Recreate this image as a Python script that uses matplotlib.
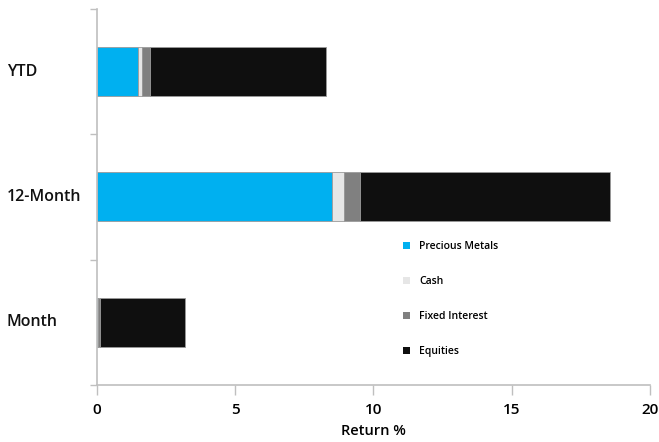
import matplotlib.pyplot as plt
import numpy as np

plt.rcParams['font.family'] = ['Open Sans', 'DejaVu Sans']

# Data (return %)
periods = ["Month", "12-Month", "YTD"]
precious_metals = [0.03, 8.51, 1.48]
cash = [0.0, 0.43, 0.17]
fixed_interest = [0.10, 0.56, 0.27]
equities = [3.05, 9.07, 6.38]

series_names = ["Precious Metals", "Cash", "Fixed Interest", "Equities"]
colors = ["#00B0F0", "#E6E6E6", "#808080", "#0F0F0F"]

fig = plt.figure(figsize=(6.59, 4.42), dpi=100)
ax = fig.add_axes([0.147, 0.129, 0.839, 0.851])

y = np.arange(len(periods))
left = np.zeros(len(periods))
handles = []
for name, vals, col in zip(series_names, [precious_metals, cash, fixed_interest, equities], colors):
    b = ax.barh(y, vals, left=left, height=0.39, color=col, edgecolor="#9a9a9a",
                linewidth=0.6, label=name)
    handles.append(b)
    left = left + np.array(vals)

ax.set_xlim(0, 20)
ax.set_ylim(-0.5, 2.5)
ax.set_xticks([0, 5, 10, 15, 20])
ax.set_yticks([-0.5, 0.5, 1.5, 2.5])
ax.set_yticklabels([])
ax.tick_params(axis="y", length=5, color="#BFBFBF", width=1)
ax.tick_params(axis="x", length=7, color="#BFBFBF", width=1, labelsize=11, pad=6)
for lab in ax.get_xticklabels():
    lab.set_fontweight("semibold")

for yi, name in zip(y, periods):
    ax.text(-0.163, yi, name, transform=ax.get_yaxis_transform(), ha="left",
            va="center", fontsize=11.5, fontweight="semibold", color="#111111")

for s in ["top", "right"]:
    ax.spines[s].set_visible(False)
for s in ["left", "bottom"]:
    ax.spines[s].set_color("#BFBFBF")
    ax.spines[s].set_linewidth(1.2)

ax.set_xlabel("Return %", fontsize=10.5, fontweight="semibold", labelpad=5)

leg = fig.legend(handles=handles, labels=series_names, loc="upper left",
                 bbox_to_anchor=(0.597, 0.475), frameon=False, fontsize=7.5,
                 handlelength=0.7, handleheight=0.7, handletextpad=0.9,
                 labelspacing=2.3)
for t in leg.get_texts():
    t.set_fontweight("semibold")
for h in leg.legend_handles:
    h.set_edgecolor("none")

fig.savefig("out.png", dpi=100)
